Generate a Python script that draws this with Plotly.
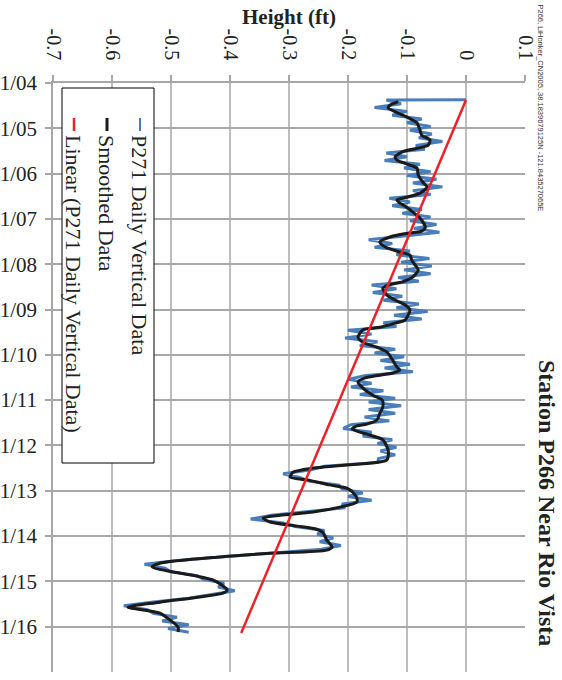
import plotly.graph_objects as go
from datetime import datetime

# ---------------- data ----------------
smooth_t = [2004.41, 2004.49, 2004.55, 2004.75, 2004.88, 2005.04, 2005.15, 2005.26, 2005.37, 2005.44,
            2005.52, 2005.63, 2005.70, 2005.81, 2005.88, 2006.03, 2006.19, 2006.30, 2006.43, 2006.52,
            2006.58, 2006.65, 2006.72, 2006.85, 2006.98, 2007.18, 2007.27, 2007.32, 2007.40, 2007.51,
            2007.62, 2007.73, 2007.80, 2007.91, 2008.02, 2008.13, 2008.28, 2008.39, 2008.46, 2008.53,
            2008.68, 2008.79, 2008.90, 2009.01, 2009.12, 2009.23, 2009.30, 2009.39, 2009.45, 2009.61,
            2009.72, 2009.83, 2009.94, 2010.12, 2010.27, 2010.34, 2010.40, 2010.45, 2010.51, 2010.60,
            2010.73, 2010.89, 2011.00, 2011.15, 2011.29, 2011.44, 2011.53, 2011.57, 2011.64, 2011.77,
            2011.88, 2012.10, 2012.32, 2012.43, 2012.50, 2012.59, 2012.70, 2012.76, 2012.87, 2012.94,
            2013.03, 2013.16, 2013.25, 2013.36, 2013.47, 2013.54, 2013.60, 2013.69, 2013.78, 2013.85,
            2013.93, 2014.09, 2014.24, 2014.31, 2014.38, 2014.46, 2014.60, 2014.68, 2014.97, 2015.19,
            2015.26, 2015.46, 2015.57, 2015.70, 2015.85, 2016.01, 2016.12]
smooth_v = [-0.115, -0.129, -0.132, -0.100, -0.083, -0.078, -0.075, -0.061, -0.064, -0.083,
            -0.108, -0.120, -0.117, -0.095, -0.083, -0.081, -0.073, -0.066, -0.078, -0.100,
            -0.117, -0.112, -0.103, -0.090, -0.078, -0.069, -0.075, -0.100, -0.129, -0.146,
            -0.137, -0.112, -0.095, -0.092, -0.086, -0.081, -0.090, -0.108, -0.132, -0.141,
            -0.134, -0.120, -0.103, -0.095, -0.098, -0.103, -0.120, -0.146, -0.175, -0.183,
            -0.175, -0.151, -0.134, -0.124, -0.117, -0.112, -0.124, -0.146, -0.171, -0.183,
            -0.175, -0.158, -0.142, -0.141, -0.146, -0.151, -0.168, -0.185, -0.193, -0.163,
            -0.141, -0.132, -0.134, -0.202, -0.259, -0.293, -0.298, -0.269, -0.231, -0.202,
            -0.192, -0.185, -0.185, -0.214, -0.259, -0.315, -0.344, -0.332, -0.286, -0.253,
            -0.242, -0.236, -0.227, -0.236, -0.332, -0.417, -0.519, -0.532, -0.429, -0.405,
            -0.412, -0.519, -0.573, -0.519, -0.502, -0.488, -0.488]

# daily series at roughly monthly steps (first point is the 0 reference)
blue_first_t = 2004.370
blue_start_t = 2004.375
blue_v = [0.0,
          -0.135, -0.110, -0.155, -0.100, -0.125, -0.075, -0.100, -0.060, -0.095, -0.058,
          -0.080, -0.040, -0.085, -0.070, -0.135, -0.100, -0.138, -0.078, -0.105, -0.060,
          -0.100, -0.050, -0.090, -0.040, -0.090, -0.060, -0.130, -0.095, -0.125, -0.075,
          -0.108, -0.060, -0.095, -0.050, -0.088, -0.045, -0.100, -0.165, -0.125, -0.155,
          -0.095, -0.118, -0.062, -0.110, -0.058, -0.105, -0.060, -0.115, -0.080, -0.160,
          -0.118, -0.158, -0.108, -0.140, -0.080, -0.118, -0.065, -0.122, -0.075, -0.140,
          -0.118, -0.200, -0.160, -0.205, -0.150, -0.180, -0.120, -0.155, -0.105, -0.145,
          -0.095, -0.138, -0.090, -0.170, -0.200, -0.160, -0.195, -0.140, -0.180, -0.120,
          -0.165, -0.110, -0.165, -0.120, -0.172, -0.130, -0.195, -0.208, -0.160, -0.175,
          -0.125, -0.150, -0.118, -0.145, -0.120, -0.148, -0.150, -0.240, -0.265, -0.310,
          -0.282, -0.265, -0.215, -0.210, -0.175, -0.200, -0.160, -0.210, -0.205, -0.265,
          -0.330, -0.365, -0.310, -0.290, -0.240, -0.252, -0.225, -0.248, -0.212, -0.245,
          -0.320, -0.410, -0.490, -0.545, -0.510, -0.500, -0.455, -0.445, -0.410, -0.420,
          -0.392, -0.435, -0.470, -0.530, -0.580, -0.540, -0.530, -0.490, -0.515, -0.470,
          -0.505, -0.470]

trend_t = [2004.375, 2016.14]
trend_v = [0.0, -0.381]

year_ticks = list(range(2004, 2017))
year_labels = ['1/04', '1/05', '1/06', '1/07', '1/08', '1/09', '1/10',
               '1/11', '1/12', '1/13', '1/14', '1/15', '1/16']
height_ticks = [-0.7, -0.6, -0.5, -0.4, -0.3, -0.2, -0.1, 0.0, 0.1]
height_labels = ['-0.7', '-0.6', '-0.5', '-0.4', '-0.3', '-0.2', '-0.1', '0', '0.1']

legend_names = ['P271 Daily Vertical Data', 'Smoothed Data', 'Linear (P271 Daily Vertical Data)']

# ---------------- helpers ----------------
def to_date(t):
    y = int(t)
    a = datetime(y, 1, 1)
    b = datetime(y + 1, 1, 1)
    return a + (b - a) * (t - y)

blue_t = [blue_first_t] + [blue_start_t + k / 12 for k in range(len(blue_v) - 1)]

W, H = 562, 680
L, R, T, B = 53, 37, 83, 8
PW, PH = W - L - R, H - T - B

def px(x):
    return (x - L) / PW

def py(y):
    return 1 - (y - T) / PH

SERIF = 'Liberation Serif'
BLUE = '#4a7ebb'
BLACK = '#1a1a1a'
RED = '#ee2028'

fig = go.Figure()
fig.add_trace(go.Scatter(x=blue_v, y=[to_date(t) for t in blue_t], mode='lines',
                         line=dict(color=BLUE, width=3), name=legend_names[0]))
fig.add_trace(go.Scatter(x=smooth_v, y=[to_date(t) for t in smooth_t], mode='lines',
                         line=dict(color=BLACK, width=3, shape='spline', smoothing=0.7),
                         name=legend_names[1]))
fig.add_trace(go.Scatter(x=trend_v, y=[to_date(t) for t in trend_t], mode='lines',
                         line=dict(color=RED, width=2.5), name=legend_names[2]))

fig.update_layout(
    width=W, height=H,
    margin=dict(l=L, r=R, t=T, b=B, autoexpand=False),
    paper_bgcolor='white', plot_bgcolor='white',
    showlegend=False,
    font=dict(family=SERIF, color='#222'),
    xaxis=dict(side='top', range=[-0.7, 0.1], tickvals=height_ticks, ticktext=height_labels,
               tickangle=90, tickfont=dict(size=20, family=SERIF, color='#222'),
               showgrid=True, gridcolor='#bdbdbd', gridwidth=1.5,
               showline=True, linecolor='#a6a6a6', linewidth=1.5,
               ticks='outside', ticklen=6, tickcolor='#a6a6a6', tickwidth=1.5,
               ticklabelstandoff=8, zeroline=False, automargin=False),
    yaxis=dict(type='date', range=[to_date(2017), to_date(2004)],
               tickvals=[to_date(y) for y in year_ticks], ticktext=year_labels,
               tickfont=dict(size=21, family=SERIF, color='#222'),
               showgrid=True, gridcolor='#a8a8a8', gridwidth=1.5,
               showline=True, linecolor='#a6a6a6', linewidth=1.5,
               ticks='outside', ticklen=6, tickcolor='#a6a6a6', tickwidth=1.5,
               ticklabelstandoff=4, zeroline=False, automargin=False),
)

ann = []
ann.append(dict(text='<b>Height (ft)</b>', x=px(289), y=py(17), xref='paper', yref='paper',
                showarrow=False, xanchor='center', yanchor='middle',
                font=dict(size=21, family=SERIF, color='#222')))
ann.append(dict(text='<b>Station P266 Near Rio Vista</b>', x=px(547), y=py(358),
                xref='paper', yref='paper', showarrow=False, textangle=90,
                xanchor='center', yanchor='top',
                font=dict(size=24, family=SERIF, color='#222')))
ann.append(dict(text='P266, LiHonker_CN2005, 38.1839679125N -121.843527065E',
                x=px(540), y=py(2), xref='paper', yref='paper', showarrow=False, textangle=90,
                xanchor='center', yanchor='top',
                font=dict(size=7.5, family='Liberation Sans', color='#333')))

shapes = []
# legend box
shapes.append(dict(type='rect', xref='paper', yref='paper', x0=px(62), x1=px(154),
                   y0=py(88), y1=py(463), line=dict(color='black', width=1),
                   fillcolor='white', layer='above'))
leg_x = [140, 107, 74]
leg_col = [BLUE, BLACK, RED]
leg_w = [2, 3, 2.5]
for name, xc, c, w in zip(legend_names, leg_x, leg_col, leg_w):
    shapes.append(dict(type='line', xref='paper', yref='paper', x0=px(xc), x1=px(xc),
                       y0=py(118), y1=py(131), line=dict(color=c, width=w), layer='above'))
    ann.append(dict(text=name, x=px(xc), y=py(133), xref='paper', yref='paper',
                    showarrow=False, textangle=90, xanchor='center', yanchor='top',
                    font=dict(size=22, family=SERIF, color='#222')))

fig.update_layout(annotations=ann, shapes=shapes)
fig.write_html('out.html', config={'displayModeBar': False},
               post_script="document.body.style.margin='0';document.body.style.overflow='hidden';")
